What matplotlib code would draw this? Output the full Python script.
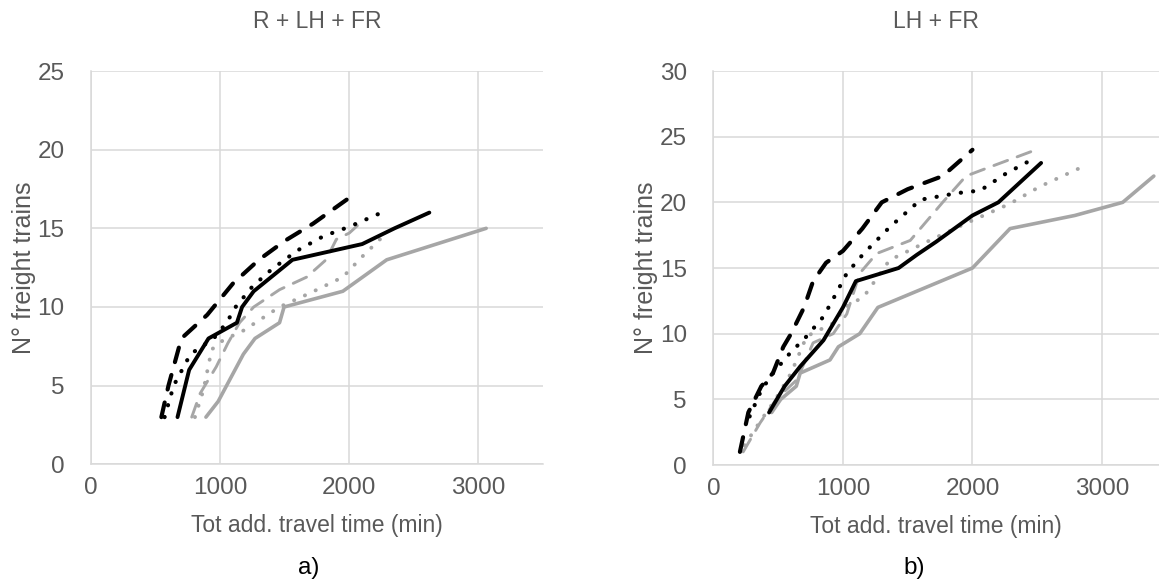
import matplotlib
matplotlib.use("Agg")
import matplotlib.pyplot as plt

plt.rcParams["font.family"] = ["Liberation Sans", "DejaVu Sans"]

# panel a) R + LH + FR
a_blk_solid_x = [670, 760, 910, 1130, 1170, 1260, 1560, 2100, 2350, 2620]
a_blk_solid_y = [3, 6, 8, 9, 10, 11, 13, 14, 15, 16]
a_blk_dash_x = [545, 600, 700, 900, 1100, 1300, 1500, 1720, 2010]
a_blk_dash_y = [3, 5, 8, 9.5, 11.5, 13, 14.2, 15.3, 17]
a_blk_dot_x = [570, 640, 770, 950, 1050, 1120, 1250, 1400, 1600, 1800, 2000, 2250]
a_blk_dot_y = [3, 5, 7, 8, 9, 10, 11.3, 12.4, 13.6, 14.5, 15.1, 16]
a_gry_dash_x = [780, 845, 970, 1060, 1150, 1260, 1460, 1670, 1820, 1900, 2000, 2080]
a_gry_dash_y = [3, 4.5, 6.2, 7.7, 9, 10, 11.1, 11.9, 13, 14.3, 14.7, 15.3]
a_gry_dot_x = [805, 870, 935, 1025, 1180, 1460, 1700, 1950, 2100, 2300]
a_gry_dot_y = [3, 4.7, 7.3, 7.9, 8.5, 10, 10.9, 11.9, 13.2, 14.8]
a_gry_solid_x = [890, 985, 1115, 1180, 1270, 1460, 1495, 1950, 2290, 3060]
a_gry_solid_y = [3, 4, 6, 7, 8, 9, 10, 11, 13, 15]

# panel b) LH + FR
b_blk_solid_x = [430, 550, 670, 850, 1000, 1100, 1430, 1570, 1720, 2000, 2200, 2530]
b_blk_solid_y = [4, 6, 7.5, 9.5, 12, 14, 15, 16, 17, 19, 20, 23]
b_blk_dash_x = [205, 270, 370, 460, 540, 600, 700, 770, 870, 1000, 1150, 1300, 1500, 1770, 2000]
b_blk_dash_y = [1, 4, 6, 7, 9, 10, 12, 14, 15.4, 16.3, 18, 20, 21, 22, 24]
b_blk_dot_x = [280, 370, 460, 590, 720, 850, 950, 1030, 1160, 1360, 1600, 1880, 2060, 2260, 2430]
b_blk_dot_y = [3.7, 5.7, 7, 8.5, 9.8, 11.3, 13.1, 14.6, 16.1, 18.1, 20.2, 20.7, 20.9, 22.2, 23.1]
b_gry_dash_x = [230, 360, 485, 645, 770, 925, 1030, 1130, 1260, 1520, 1770, 1950, 2110, 2490]
b_gry_dash_y = [1, 3.2, 5, 6.5, 9.3, 10, 11.5, 14.6, 16.1, 17.1, 20, 22, 22.6, 24]
b_gry_dot_x = [240, 360, 480, 600, 720, 925, 1030, 1160, 1360, 1670, 1950, 2290, 2520, 2870]
b_gry_dot_y = [1.5, 3.3, 5, 7, 9.8, 10.8, 12.1, 12.8, 15.6, 17.1, 18.4, 19.9, 21.2, 22.8]
b_gry_solid_x = [450, 520, 640, 670, 900, 965, 1130, 1270, 2000, 2290, 2790, 3160, 3400]
b_gry_solid_y = [4, 5, 6, 7, 8, 9, 10, 12, 15, 18, 19, 20, 22]

BLACK = "#000000"
GRAY = "#a6a6a6"
GRID = "#d9d9d9"
TXT = "#595959"


def draw_series(ax, data):
    (bsx, bsy), (bdx, bdy), (bpx, bpy), (gdx, gdy), (gpx, gpy), (gsx, gsy) = data
    ax.plot(gsx, gsy, color=GRAY, lw=2.6, solid_capstyle="round", solid_joinstyle="round")
    ax.plot(gpx, gpy, color=GRAY, lw=2.8, dashes=(0.05, 3.0), dash_capstyle="round")
    ax.plot(gdx, gdy, color=GRAY, lw=2.1, dashes=(5, 3.5), dash_capstyle="round")
    ax.plot(bpx, bpy, color=BLACK, lw=3.0, dashes=(0.05, 2.9), dash_capstyle="round")
    ax.plot(bdx, bdy, color=BLACK, lw=3.0, dashes=(3.6, 3.2), dash_capstyle="round")
    ax.plot(bsx, bsy, color=BLACK, lw=2.8, solid_capstyle="round", solid_joinstyle="round")


def style(ax, xmax, ymax, title):
    ax.set_xlim(0, xmax)
    ax.set_ylim(0, ymax)
    ax.set_xticks([0, 1000, 2000, 3000])
    ax.set_yticks(range(0, ymax + 1, 5))
    ax.grid(True, color=GRID, lw=1.1)
    ax.set_axisbelow(True)
    for s in ["top", "right"]:
        ax.spines[s].set_visible(False)
    for s in ["left", "bottom"]:
        ax.spines[s].set_color(GRID)
        ax.spines[s].set_linewidth(1.1)
    ax.tick_params(length=0, labelsize=17.5, labelcolor=TXT)
    ax.tick_params(axis="y", pad=19)
    ax.tick_params(axis="x", pad=9)
    ax.set_xlabel("Tot add. travel time (min)", fontsize=16.5, color=TXT, labelpad=11)
    ax.set_ylabel("N° freight trains", fontsize=18, color=TXT, labelpad=1)
    ax.set_title(title, fontsize=16.5, color=TXT, pad=31)


fig = plt.figure(figsize=(11.59, 5.82), dpi=100)
ax1 = fig.add_axes([0.0785, 0.2022, 0.390, 0.6758])
ax2 = fig.add_axes([0.6155, 0.2010, 0.3845, 0.6770])

draw_series(ax1, [(a_blk_solid_x, a_blk_solid_y), (a_blk_dash_x, a_blk_dash_y),
                  (a_blk_dot_x, a_blk_dot_y), (a_gry_dash_x, a_gry_dash_y),
                  (a_gry_dot_x, a_gry_dot_y), (a_gry_solid_x, a_gry_solid_y)])
draw_series(ax2, [(b_blk_solid_x, b_blk_solid_y), (b_blk_dash_x, b_blk_dash_y),
                  (b_blk_dot_x, b_blk_dot_y), (b_gry_dash_x, b_gry_dash_y),
                  (b_gry_dot_x, b_gry_dot_y), (b_gry_solid_x, b_gry_solid_y)])

style(ax1, 3500, 25, "R + LH + FR")
style(ax2, 3440, 30, "LH + FR")

fig.text(0.266, 0.024, "a)", fontsize=17.5, ha="center", va="center")
fig.text(0.789, 0.024, "b)", fontsize=17.5, ha="center", va="center")

fig.savefig("out.png", dpi=100)
